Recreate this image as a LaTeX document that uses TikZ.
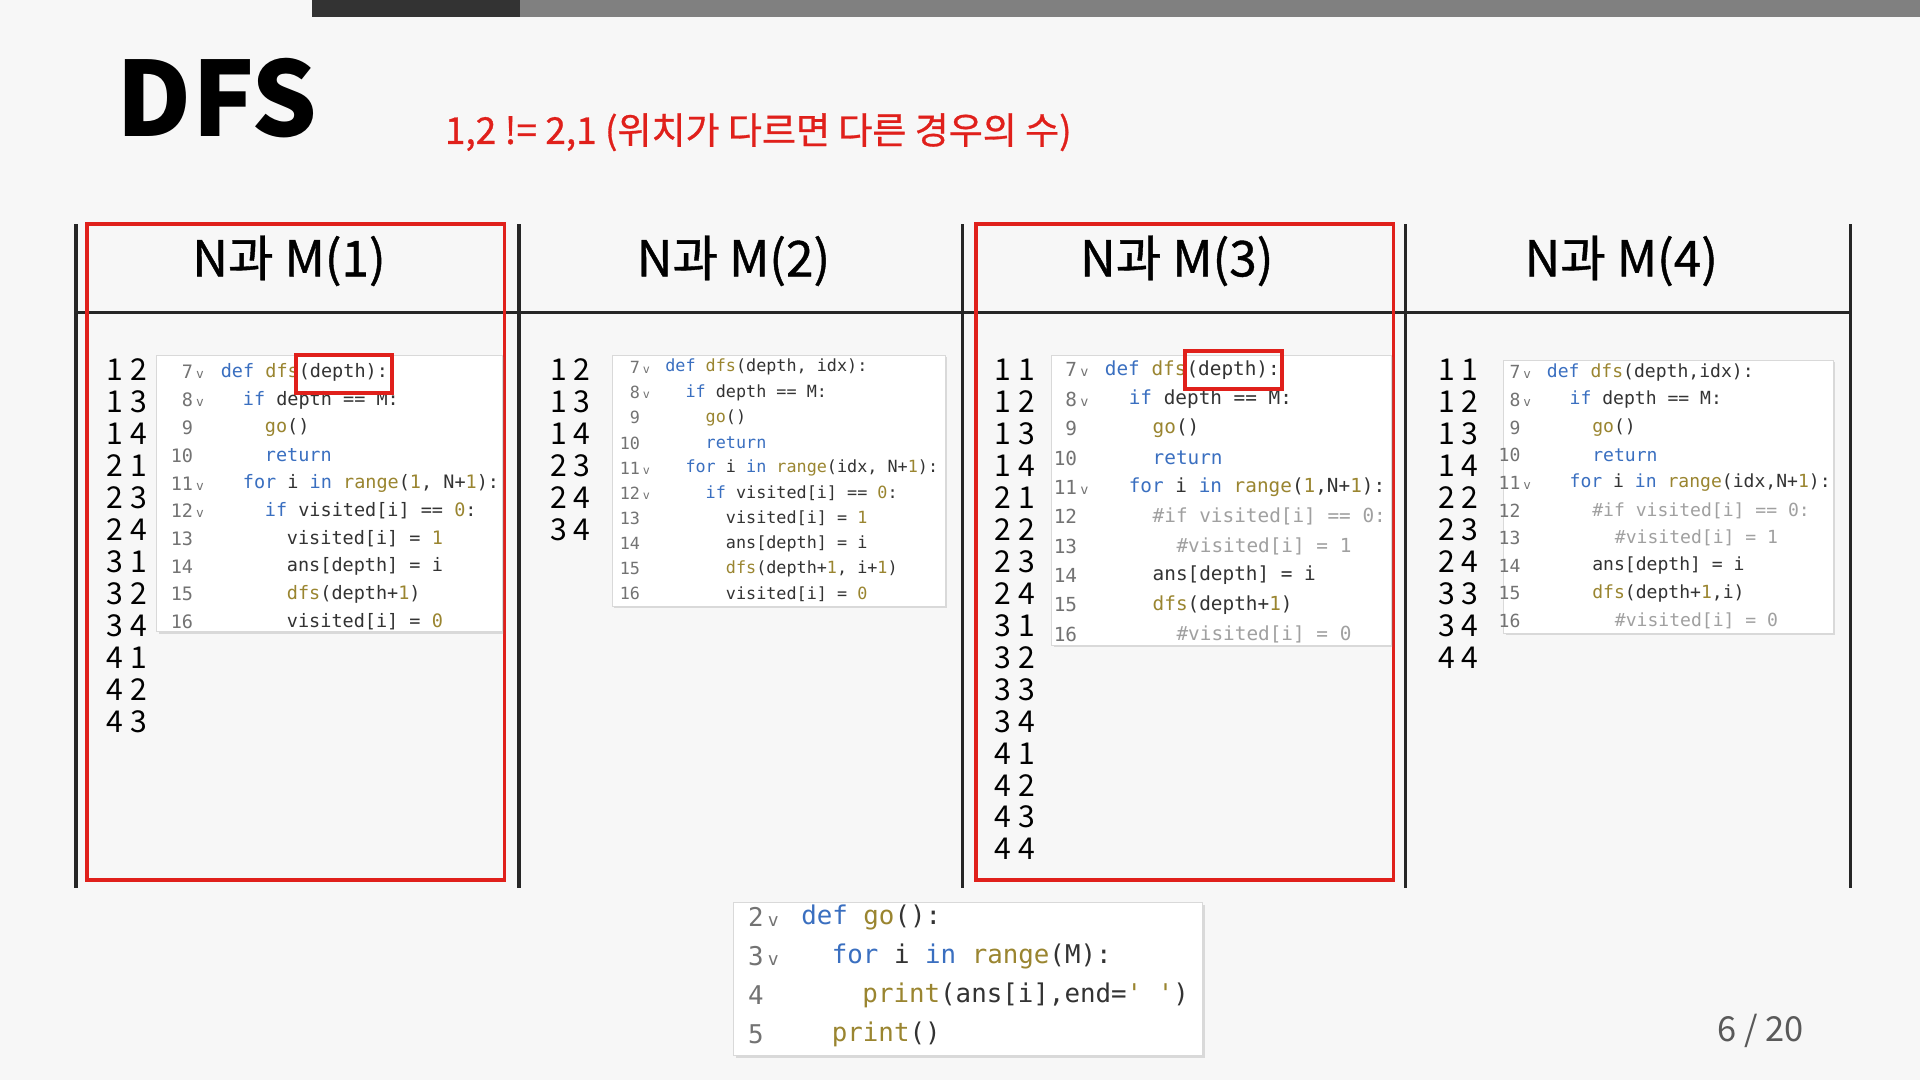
\documentclass[tikz,border=0pt]{standalone}
\usepackage{fontspec}
\setmainfont{Noto Sans CJK KR}
\newfontfamily\codefont{DejaVu Sans Mono}
\newfontfamily\medfont{Noto Sans CJK KR}[FakeBold=0.8]
\usetikzlibrary{shadows}
\definecolor{kwblue}{HTML}{3A6FC0}
\definecolor{fnolive}{HTML}{9A8530}
\definecolor{cmgrey}{HTML}{A0A0A0}
\definecolor{slidered}{HTML}{E0201B}
\newcommand\kw[1]{\textcolor{kwblue}{#1}}
\newcommand\fn[1]{\textcolor{fnolive}{#1}}
\newcommand\nm[1]{\textcolor{fnolive}{#1}}
\newcommand\cm[1]{\textcolor{cmgrey}{#1}}
\newcommand\fold{\makebox[0pt][l]{\,\scalebox{.7}{v}}}
\tikzset{
    frameline/.style={
    draw=black!85,line width=1.6pt
    },
    redbox/.style={
    draw=slidered,line width=1.8pt
    },
    codebox/.style={
    draw=black!15,fill=white,drop shadow={opacity=0.25,shadow xshift=1pt,shadow yshift=-1pt}
    },
    head/.style={
    font=\medfont\fontsize{23}{26}\selectfont
    },
    pair/.style={
    anchor=west,inner sep=0,font=\fontsize{14}{16}\selectfont
    },
    lnum/.style={
    anchor=east,inner sep=0,text=black!55,font=\codefont\fontsize{\cfs}{\cfs}\selectfont
    },
    code/.style={
    anchor=west,inner sep=0,text=black!80,font=\codefont\fontsize{\cfs}{\cfs}\selectfont
    },
}
% one code line: y, number, level, text
\newcommand\cl[4]{%
  \node[lnum] at (\nx,#1) {#2};
  \node[code] at ({\cx+#3*\ind},#1) {#4};}

\begin{document}
\begin{tikzpicture}[x=0.02cm,y=-0.02cm]
   \fill[black!3] (0,0) rectangle (1568,882);
   \useasboundingbox (0,0) rectangle (1568,882);
   \fill[black!80] (255,0) rectangle (425,14);
   \fill[black!50] (425,0) rectangle (1568,14);

   \node[anchor=west,inner sep=0,font=\fontsize{48}{50}\bfseries] (title) at (95,80) {DFS};
   \node[anchor=west,inner sep=0,text=slidered,font=\medfont\fontsize{17.2}{20}\selectfont] (rule) at (363,108) {1,2 != 2,1 (위치가 다르면 다른 경우의 수)};

   % frame
   \foreach \x in {62,424,786,1148,1511}
     \draw[frameline] (\x,183) -- (\x,725);
   \draw[frameline] (62,255) -- (1511,255);
   \draw[redbox] (71,183) rectangle (412,719);
   \draw[redbox] (797,183) rectangle (1138,719);

   \node[head] (h1) at (236,213) {N과 M(1)};
   \node[head] (h2) at (599,213) {N과 M(2)};
   \node[head] (h3) at (961,213) {N과 M(3)};
   \node[head] (h4) at (1324,213) {N과 M(4)};

   % pairs
   \foreach \t [count=\i] in {1 2,1 3,1 4,2 1,2 3,2 4,3 1,3 2,3 4,4 1,4 2,4 3}
     \node[pair] at (87,{302+(\i-1)*26.1}) {\t};
   \foreach \t [count=\i] in {1 2,1 3,1 4,2 3,2 4,3 4}
     \node[pair] at (449,{302+(\i-1)*26.1}) {\t};
   \foreach \t [count=\i] in {1 1,1 2,1 3,1 4,2 1,2 2,2 3,2 4,3 1,3 2,3 3,3 4,4 1,4 2,4 3,4 4}
     \node[pair] at (812,{302+(\i-1)*26.1}) {\t};
   \foreach \t [count=\i] in {1 1,1 2,1 3,1 4,2 2,2 3,2 4,3 3,3 4,4 4}
     \node[pair] at (1174,{302+(\i-1)*26.1}) {\t};

   % code 1
   \draw[codebox] (128,290) rectangle (410,516);
   \def\cfs{8.6}\def\nx{158}\def\cx{180}\def\ind{18}
   \cl{304}{7\fold}{0}{\kw{def} \fn{dfs}(depth):}
   \cl{326.7}{8\fold}{1}{\kw{if} depth == M:}
   \cl{349.3}{9}{2}{\fn{go}()}
   \cl{372}{10}{2}{\kw{return}}
   \cl{394.7}{11\fold}{1}{\kw{for} i \kw{in} \fn{range}(\nm{1}, N+\nm{1}):}
   \cl{417.3}{12\fold}{2}{\kw{if} visited[i] == \nm{0}:}
   \cl{440}{13}{3}{visited[i] = \nm{1}}
   \cl{462.7}{14}{3}{ans[depth] = i}
   \cl{485.3}{15}{3}{\fn{dfs}(depth+\nm{1})}
   \cl{508}{16}{3}{visited[i] = \nm{0}}
   \draw[redbox] (242,290) rectangle (320,321);

   % code 2
   \draw[codebox] (500,290) rectangle (772,495);
   \def\cfs{7.8}\def\nx{523}\def\cx{543}\def\ind{16.5}
   \cl{300}{7\fold}{0}{\kw{def} \fn{dfs}(depth, idx):}
   \cl{320.6}{8\fold}{1}{\kw{if} depth == M:}
   \cl{341.1}{9}{2}{\fn{go}()}
   \cl{361.7}{10}{2}{\kw{return}}
   \cl{382.2}{11\fold}{1}{\kw{for} i \kw{in} \fn{range}(idx, N+\nm{1}):}
   \cl{402.8}{12\fold}{2}{\kw{if} visited[i] == \nm{0}:}
   \cl{423.3}{13}{3}{visited[i] = \nm{1}}
   \cl{443.9}{14}{3}{ans[depth] = i}
   \cl{464.4}{15}{3}{\fn{dfs}(depth+\nm{1}, i+\nm{1})}
   \cl{485}{16}{3}{visited[i] = \nm{0}}

   % code 3
   \draw[codebox] (859,290) rectangle (1136,527);
   \def\cfs{9}\def\nx{880}\def\cx{902}\def\ind{19.5}
   \cl{302}{7\fold}{0}{\kw{def} \fn{dfs}(depth):}
   \cl{326}{8\fold}{1}{\kw{if} depth == M:}
   \cl{350}{9}{2}{\fn{go}()}
   \cl{374}{10}{2}{\kw{return}}
   \cl{398}{11\fold}{1}{\kw{for} i \kw{in} \fn{range}(\nm{1},N+\nm{1}):}
   \cl{422}{12}{2}{\cm{\#if visited[i] == 0:}}
   \cl{446}{13}{3}{\cm{\#visited[i] = 1}}
   \cl{470}{14}{2}{ans[depth] = i}
   \cl{494}{15}{2}{\fn{dfs}(depth+\nm{1})}
   \cl{518}{16}{3}{\cm{\#visited[i] = 0}}
   \draw[redbox] (968,287) rectangle (1047,318);

   % code 4
   \draw[codebox] (1228,294) rectangle (1497,517);
   \def\cfs{8.4}\def\nx{1242}\def\cx{1263}\def\ind{18.5}
   \cl{304}{7\fold}{0}{\kw{def} \fn{dfs}(depth,idx):}
   \cl{326.6}{8\fold}{1}{\kw{if} depth == M:}
   \cl{349.1}{9}{2}{\fn{go}()}
   \cl{371.7}{10}{2}{\kw{return}}
   \cl{394.2}{11\fold}{1}{\kw{for} i \kw{in} \fn{range}(idx,N+\nm{1}):}
   \cl{416.8}{12}{2}{\cm{\#if visited[i] == 0:}}
   \cl{439.3}{13}{3}{\cm{\#visited[i] = 1}}
   \cl{461.9}{14}{2}{ans[depth] = i}
   \cl{484.4}{15}{2}{\fn{dfs}(depth+\nm{1},i)}
   \cl{507}{16}{3}{\cm{\#visited[i] = 0}}

   % go()
   \draw[codebox] (599,737) rectangle (982,862);
   \def\cfs{12}\def\nx{624}\def\cx{654}\def\ind{25}
   \cl{749}{2\fold}{0}{\kw{def} \fn{go}():}
   \cl{781}{3\fold}{1}{\kw{for} i \kw{in} \fn{range}(M):}
   \cl{813}{4}{2}{\fn{print}(ans[i],end=\fn{\char"27\ \char"27})}
   \cl{845}{5}{1}{\fn{print}()}

   \node[text=black!65,font=\fontsize{16}{18}\selectfont] (page) at (1438,842) {6 / 20};
\end{tikzpicture}
\end{document}
